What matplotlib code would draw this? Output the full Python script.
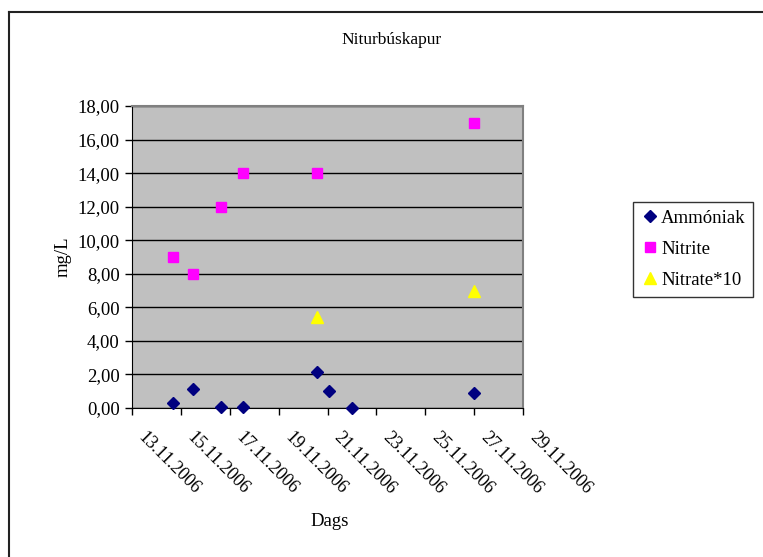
import matplotlib
matplotlib.use('Agg')
import matplotlib.pyplot as plt
import matplotlib.dates as mdates
import matplotlib.transforms as mtransforms
from matplotlib.lines import Line2D
import pandas as pd
import numpy as np

plt.rcParams['font.family'] = ['Liberation Serif', 'DejaVu Serif']

# data
amm_dates = ['2006-11-14 16:00', '2006-11-15 11:30', '2006-11-16 15:30', '2006-11-17 12:45',
             '2006-11-20 13:30', '2006-11-21 01:00', '2006-11-22 00:00', '2006-11-27 00:00']
amm_vals = [0.28, 1.11, 0.08, 0.08, 2.17, 1.01, 0.0, 0.91]

nitrite_dates = ['2006-11-14 16:00', '2006-11-15 11:30', '2006-11-16 15:30', '2006-11-17 12:45',
                 '2006-11-20 13:30', '2006-11-27 00:00']
nitrite_vals = [9.0, 8.0, 12.0, 14.0, 14.0, 17.0]

nitrate_dates = ['2006-11-20 13:30', '2006-11-27 00:00']
nitrate_vals = [5.4, 7.0]

x_start = '2006-11-13'
x_end = '2006-11-29'

W, H = 763, 557
fig = plt.figure(figsize=(W / 100, H / 100), dpi=100)
ax = fig.add_axes([132/W, 1-408/H, (523-132)/W, (408-106)/H])
ax.set_facecolor('#C0C0C0')

ax.plot(pd.to_datetime(amm_dates), amm_vals, 'D', color='#000080', ms=6.5, mec='#000080',
        label='Ammóniak', clip_on=False, zorder=3)
ax.plot(pd.to_datetime(nitrite_dates), nitrite_vals, 's', color='#FF00FF', ms=7, mec='#FF00FF',
        label='Nitrite', clip_on=False, zorder=3)
ax.plot(pd.to_datetime(nitrate_dates), nitrate_vals, '^', color='#FFFF00', ms=8.5, mec='#FFFF00',
        label='Nitrate*10', clip_on=False, zorder=3)

ax.set_xlim(pd.to_datetime(x_start), pd.to_datetime(x_end))
ax.set_ylim(0, 18)
yt = np.arange(0, 19, 2)
ax.set_yticks(yt)
ax.set_yticklabels([f'{v:.2f}'.replace('.', ',') for v in yt], fontsize=13.5)
ax.xaxis.set_major_locator(mdates.DayLocator(bymonthday=range(13, 30, 2)))
ax.xaxis.set_major_formatter(mdates.DateFormatter('%d.%m.%Y'))

ax.grid(axis='y', color='black', lw=1)
ax.set_axisbelow(True)
ax.tick_params(direction='out', length=5, width=1, color='black', pad=4)
ax.tick_params(axis='x', pad=6)

shift = mtransforms.ScaledTranslation(15/100, -6/100, fig.dpi_scale_trans)
for lbl in ax.get_xticklabels():
    lbl.set_rotation(-45)
    lbl.set_ha('left')
    lbl.set_va('top')
    lbl.set_rotation_mode('anchor')
    lbl.set_fontsize(13)
    lbl.set_transform(lbl.get_transform() + shift)

ax.spines['left'].set_color('black')
ax.spines['bottom'].set_color('black')
ax.spines['top'].set_color('#808080')
ax.spines['right'].set_color('#808080')
ax.spines['top'].set_linewidth(1.5)
ax.spines['right'].set_linewidth(1.5)

fig.text(392/W, 1-40/H, 'Niturbúskapur', fontsize=12.5, ha='center', va='center')
ax.set_ylabel('mg/L', fontsize=13.5, labelpad=4)
ax.set_xlabel('Dags', fontsize=13.5)
ax.xaxis.set_label_coords((330-132)/(523-132), -(521-408)/302)
ax.xaxis.label.set_va('center')

leg = fig.legend(loc='upper left', bbox_to_anchor=(633/W, 1-202/H), fontsize=13.5,
                 frameon=True, fancybox=False, edgecolor='black', handletextpad=0.1,
                 handlelength=1.0, borderpad=0.4, labelspacing=0.75, borderaxespad=0)
leg.get_frame().set_linewidth(1)

# chart area border (only top and left visible)
fig.add_artist(Line2D([9/W, 1], [1-12/H, 1-12/H], color='#222222', lw=1.5))
fig.add_artist(Line2D([9/W, 9/W], [0, 1-12/H], color='#222222', lw=1.5))

fig.savefig('out.png', dpi=100)
